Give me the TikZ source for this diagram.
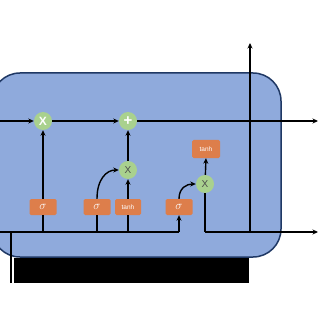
\documentclass[tikz,border=0pt]{standalone}
\usepackage{fontspec}
\setmainfont{Liberation Sans}
\usetikzlibrary{arrows.meta,calc}
\definecolor{cellfill}{HTML}{8FAADC}
\definecolor{celledge}{HTML}{1F3864}
\definecolor{opgreen}{HTML}{A9D18E}
\definecolor{gateorange}{HTML}{DD7E4B}
\begin{document}
\begin{tikzpicture}[x=1pt,y=-1pt,
  wire/.style={line width=1.4pt,black},
  arr/.style={wire,-{Stealth[length=5.5pt,width=5pt]}},
  opnode/.style={circle,fill=opgreen,minimum size=18pt,inner sep=0pt},
  gatebox/.style={rounded corners=1.5pt,fill=gateorange,minimum width=27pt,minimum height=16pt,inner sep=0pt,text=white,font=\fontsize{6.5}{6.5}\selectfont},
  sigtext/.style={font=\fontsize{13}{13}\selectfont},
  wideop/.style={text=white,font=\bfseries\fontsize{12}{12}\selectfont},
  plusop/.style={text=white,font=\bfseries\fontsize{15}{15}\selectfont},
  thinop/.style={text=black!70,font=\fontsize{10}{10}\selectfont}]
\useasboundingbox (0,0) rectangle (320,320);
% cell
\draw[fill=cellfill,draw=celledge,line width=1.5pt,rounded corners=28pt] (-8,73) rectangle (281,257);
\fill[black] (14,258) rectangle (249,283);
% nodes
\node[opnode,wideop] (m1) at (43,121) {X};
\node[opnode,plusop] (pl) at (128,121) {+};
\node[opnode,thinop] (m2) at (128,170) {X};
\node[opnode,thinop] (m3) at (205,184) {X};
\node[gatebox,sigtext] (s1) at (43,207) {$\sigma$};
\node[gatebox,sigtext] (s2) at (97,207) {$\sigma$};
\node[gatebox,minimum width=26pt] (t1) at (128,207) {tanh};
\node[gatebox,sigtext] (s3) at (179,207) {$\sigma$};
\node[gatebox,minimum width=28pt,minimum height=18pt] (t2) at (206,149) {tanh};
% coordinates
\coordinate (cin) at (0,121);
\coordinate (cout) at (318,121);
\coordinate (hin) at (0,232);
\coordinate (xin) at (11,283);
\coordinate (xj) at (11,232);
\coordinate (b1) at (43,232);
\coordinate (b2) at (97,232);
\coordinate (b3) at (128,232);
\coordinate (b4) at (179,232);
\coordinate (hc) at (205,232);
\coordinate (hj) at (250,232);
\coordinate (hout) at (318,232);
\coordinate (htop) at (250,43);
% wires
\draw[wire] (xin) -- (xj);
\draw[wire] (hin) -- (b4);
\draw[arr] (b4) -- (s3.south);
\draw[wire] (b1) -- (s1.south);
\draw[wire] (b2) -- (s2.south);
\draw[wire] (b3) -- (t1.south);
\draw[arr] (cin) -- (m1);
\draw[arr] (m1) -- (pl);
\draw[arr] (pl) -- (cout);
\draw[arr] (s1.north) -- (m1);
\draw[arr] (t1.north) -- (m2);
\draw[arr] (m2) -- (pl);
\draw[arr] (s2.north) .. controls ($(s2.north)+(0,-20)$) and ($(m2.west)+(-12,0)$) .. (m2.west);
\draw[arr] (s3.north) .. controls ($(s3.north)+(0,-11)$) and ($(m3.west)+(-9,0)$) .. (m3.west);
\draw[arr] (m3) -- (t2.south);
\draw[wire] (m3) -- (hc);
\draw[arr] (hc) -- (hout);
\draw[arr] (hj) -- (htop);
\end{tikzpicture}
\end{document}
